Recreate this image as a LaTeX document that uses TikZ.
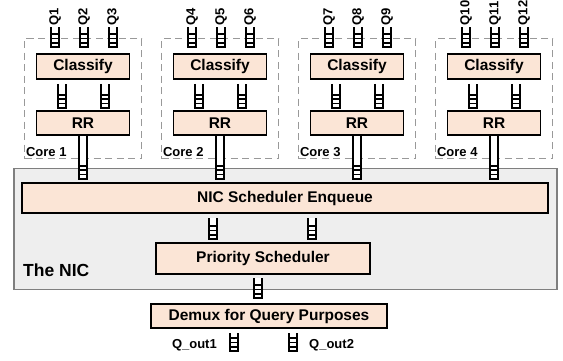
\documentclass[tikz,border=0pt]{standalone}
\usepackage{fontspec}
\setmainfont{Liberation Sans}
\usetikzlibrary{positioning,calc}
\definecolor{peach}{HTML}{FBE5D6}
\definecolor{nicgray}{HTML}{EEEEEE}
\definecolor{edgegray}{HTML}{7F7F7F}
\begin{document}
\begin{tikzpicture}[x=1pt, y=-1pt,
    box/.style = {draw, line width=1.7pt, fill=peach, inner sep=0pt,
        font=\bfseries\fontsize{15.5}{18}\selectfont},
    core/.style = {draw=edgegray!80, line width=1.3pt, dash pattern=on 7pt off 4.5pt,
        minimum width=117pt, minimum height=120pt, inner sep=0pt},
    small/.style = {font=\bfseries\fontsize{13}{15}\selectfont},
    fifoline/.style = {line width=1.6pt},
    pics/fifo/.style = {code={
        \fill[white] (-4.2,0) rectangle (4.2,#1);
        \draw[fifoline] (-4.2,0) -- (-4.2,#1) -- (4.2,#1) -- (4.2,0);
        \foreach \r in {1,2,3}
            \draw[fifoline] (-4.2,#1-4.3*\r) -- (4.2,#1-4.3*\r);
    }}]
    \useasboundingbox (0,0) rectangle (563,360);
    % the NIC
    \node[draw=edgegray, line width=1.5pt, fill=nicgray, minimum width=543pt,
        minimum height=121pt, inner sep=0pt] (nic) at (285.5,229) {};
    \node[anchor=base west, inner sep=0pt, font=\bfseries\fontsize{17.5}{20}\selectfont]
        (niclabel) at (23,276) {The NIC};
    \node[box, minimum width=526pt, minimum height=30pt] (enq) at (285,198) {NIC Scheduler Enqueue};
    \node[box, minimum width=214pt, minimum height=31pt] (prio) at (263,258.5) {Priority Scheduler};
    \node[box, minimum width=236pt, minimum height=24pt] (demux) at (269,316) {Demux for Query Purposes};
    % cores
    \foreach \i/\cx in {1/83, 2/220, 3/357, 4/494} {
        \node[core] (core\i) at (\cx,98.5) {};
        \node[small, anchor=south west, inner sep=2pt] (corelabel\i) at (core\i.south west) {Core \i};
        \node[box, minimum width=93pt, minimum height=25pt] (cls\i) at (\cx,66.5) {Classify};
        \node[box, minimum width=93pt, minimum height=24pt] (rr\i) at (\cx,123) {RR};
        \foreach \k/\dx in {1/-28, 2/1, 3/30} {
            \pgfmathtruncatemacro\q{3*(\i-1)+\k}
            \pic at (\cx+\dx,27) {fifo=20};
            \node[small, rotate=90, anchor=west, inner sep=1.5pt] (qlabel\q) at (\cx+\dx,27) {Q\q};
        }
        \pic at ($(cls\i.south)+(-21,4)$) {fifo=24};
        \pic at ($(cls\i.south)+(22,4)$) {fifo=24};
        \pic at (rr\i.south) {fifo=43};
    }
    % queues inside and below the NIC
    \pic at (213,218) {fifo=21};
    \pic at (312,218) {fifo=21};
    \pic at (258,278) {fifo=20};
    \pic at (234,333) {fifo=18};
    \pic at (293,333) {fifo=18};
    \node[small, anchor=base east, inner sep=0pt] (qout1) at (217,348) {Q\_out1};
    \node[small, anchor=base west, inner sep=0pt] (qout2) at (309,348) {Q\_out2};
\end{tikzpicture}
\end{document}
